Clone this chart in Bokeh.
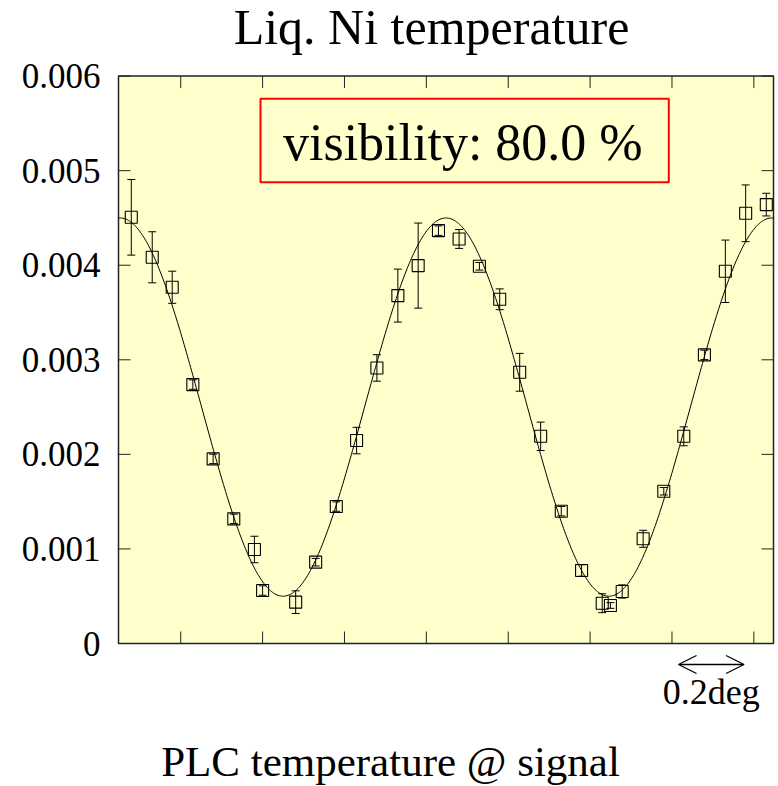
import numpy as np
from bokeh.plotting import figure
from bokeh.models import (ColumnDataSource, Whisker, TeeHead, Label, Arrow, OpenHead,
                          FixedTicker, CustomJSTickFormatter, Range1d, BoxAnnotation)
from bokeh.core.properties import value
from bokeh.embed import file_html
from bokeh.resources import INLINE

# ---------------- data ----------------
x_pos = [0.039, 0.103, 0.164, 0.227, 0.289, 0.352, 0.415, 0.440, 0.541, 0.602,
         0.665, 0.727, 0.789, 0.853, 0.915, 0.977, 1.040, 1.102, 1.164, 1.225,
         1.289, 1.352, 1.414, 1.477, 1.502, 1.538, 1.602, 1.665, 1.726, 1.789,
         1.853, 1.915, 1.978]
signal = [4.507e-3, 4.084e-3, 3.767e-3, 2.738e-3, 1.952e-3, 1.318e-3, 0.994e-3, 0.560e-3,
          0.437e-3, 0.860e-3, 1.448e-3, 2.146e-3, 2.914e-3, 3.679e-3, 3.996e-3, 4.366e-3,
          4.278e-3, 3.989e-3, 3.640e-3, 2.868e-3, 2.191e-3, 1.399e-3, 0.772e-3, 0.426e-3,
          0.402e-3, 0.550e-3, 1.107e-3, 1.610e-3, 2.191e-3, 3.052e-3, 3.936e-3, 4.549e-3,
          4.641e-3]
sig_err = [0.40e-3, 0.27e-3, 0.17e-3, 0.05e-3, 0.05e-3, 0.05e-3, 0.14e-3, 0.05e-3,
           0.12e-3, 0.04e-3, 0.05e-3, 0.14e-3, 0.14e-3, 0.28e-3, 0.45e-3, 0.05e-3,
           0.10e-3, 0.04e-3, 0.11e-3, 0.20e-3, 0.15e-3, 0.05e-3, 0.06e-3, 0.10e-3,
           0.03e-3, 0.07e-3, 0.09e-3, 0.04e-3, 0.10e-3, 0.05e-3, 0.33e-3, 0.30e-3,
           0.12e-3]

# fit parameters (visibility 80 %)
fit_offset = 0.0025
fit_amp = 0.0020
fit_period = 0.995
fit_peak = 1.0

y_ticks = [0.0, 0.001, 0.002, 0.003, 0.004, 0.005, 0.006]
x_ticks = [0.19, 0.44, 0.69, 0.94, 1.19, 1.44, 1.69, 1.94]
x_lo, x_hi = 0.0, 2.0
y_lo, y_hi = 0.0, 0.006

title_text = "Liq. Ni temperature"
xlabel_text = "PLC temperature @ signal"
vis_text = "visibility: 80.0 %"
scale_text = "0.2deg"
scale_start, scale_end = 1.71, 1.91

# ---------------- layout geometry (pixels) ----------------
FONT = "Liberation Serif"
BG = "#ffffcc"
EDGE = "#222222"
W, H = 775, 786
BOX_L, BOX_R = 118, 773          # plot box, canvas pixels
BOX_T, BOX_B = 75.6, 643
FRAME_L = 112
XPX = (BOX_R - BOX_L) / (x_hi - x_lo)   # px per x unit
YPX = (BOX_B - BOX_T) / (y_hi - y_lo)   # px per y unit
TICK = 12


def ypx(py):
    return y_lo + (BOX_B - py) / YPX


def xpx(px):
    return x_lo + (px - BOX_L) / XPX


xr = Range1d(xpx(FRAME_L), xpx(W))
yr = Range1d(ypx(H), ypx(0))

p = figure(width=W, height=H, x_range=xr, y_range=yr,
           toolbar_location=None, output_backend="svg", title=None,
           x_axis_location=None,
           min_border_left=FRAME_L, min_border_right=0, min_border_top=0, min_border_bottom=0)
p.outline_line_color = None
p.background_fill_color = "white"
p.border_fill_color = "white"
p.xgrid.visible = False
p.ygrid.visible = False

# left axis: only tick labels (ticks drawn at the plot box edge below)
ya = p.yaxis[0]
ya.ticker = FixedTicker(ticks=y_ticks)
ya.formatter = CustomJSTickFormatter(code="return Math.abs(tick) < 1e-9 ? '0' : tick.toFixed(3);")
ya.major_label_text_font = FONT
ya.major_label_text_font_size = "35px"
ya.major_label_text_color = "black"
ya.major_label_standoff = 12
ya.axis_line_color = None
ya.major_tick_line_color = None
ya.minor_tick_line_color = None
ya.major_tick_out = 0
ya.major_tick_in = 0

# plot box
bg = p.quad(left=[x_lo], right=[x_hi], bottom=[y_lo], top=[y_hi],
            fill_color=BG, line_color=EDGE, line_width=1.5)
bg.level = "underlay"

# inward tick marks on all four sides
nx, ny = len(x_ticks), len(y_ticks)
p.segment(x0=x_ticks, x1=x_ticks, y0=[y_lo] * nx, y1=[y_lo + TICK / YPX] * nx,
          line_color=EDGE, line_width=1)
p.segment(x0=x_ticks, x1=x_ticks, y0=[y_hi] * nx, y1=[y_hi - TICK / YPX] * nx,
          line_color=EDGE, line_width=1)
p.segment(x0=[x_lo] * ny, x1=[x_lo + TICK / XPX] * ny, y0=y_ticks, y1=y_ticks,
          line_color=EDGE, line_width=1)
p.segment(x0=[x_hi] * ny, x1=[x_hi - TICK / XPX] * ny, y0=y_ticks, y1=y_ticks,
          line_color=EDGE, line_width=1)

# fit curve
xf = np.linspace(x_lo, x_hi, 600)
yf = fit_offset + fit_amp * np.cos(2 * np.pi * (xf - fit_peak) / fit_period)
p.line(xf, yf, line_color="black", line_width=1)

# data points with error bars
lo = [s - e for s, e in zip(signal, sig_err)]
hi = [s + e for s, e in zip(signal, sig_err)]
src = ColumnDataSource(data=dict(x=x_pos, y=signal, lower=lo, upper=hi))
wk = Whisker(base="x", lower="lower", upper="upper", source=src,
             line_color="black", line_width=1,
             upper_head=TeeHead(size=8, line_color="black", line_width=1),
             lower_head=TeeHead(size=8, line_color="black", line_width=1))
wk.level = "overlay"
p.add_layout(wk)
p.scatter("x", "y", source=src, marker="square", size=12, fill_color=None,
          line_color="black", line_width=1.1)

# visibility box
p.add_layout(BoxAnnotation(left=xpx(260), right=xpx(668.3), bottom=ypx(181.7), top=ypx(98.3),
                           fill_color=BG, fill_alpha=1.0,
                           line_color="red", line_alpha=1.0, line_width=2))
p.add_layout(Label(x=xpx(462.3), y=ypx(141.5), text=vis_text, text_font=FONT,
                   text_font_size="52px", text_align="center", text_baseline="middle",
                   text_color="black"))

# title
p.text(x=[xpx(431)], y=[ypx(26)], text=[title_text], text_font=value(FONT),
       text_font_size="50px", text_align="center", text_baseline="middle",
       text_color="black")

# 0.2 deg scale arrow
p.add_layout(Arrow(x_start=scale_start, y_start=ypx(664), x_end=scale_end, y_end=ypx(664),
                   line_color="black", line_width=1.3,
                   start=OpenHead(size=18, line_color="black", line_width=1.3),
                   end=OpenHead(size=18, line_color="black", line_width=1.3)))
p.text(x=[(scale_start + scale_end) / 2], y=[ypx(691)], text=[scale_text],
       text_font=value(FONT), text_font_size="36px", text_align="center",
       text_baseline="middle", text_color="black")

# x label
p.text(x=[xpx(390)], y=[ypx(760.5)], text=[xlabel_text], text_font=value(FONT),
       text_font_size="43px", text_align="center", text_baseline="middle",
       text_color="black")

open("out.html", "w").write(file_html(p, INLINE))
